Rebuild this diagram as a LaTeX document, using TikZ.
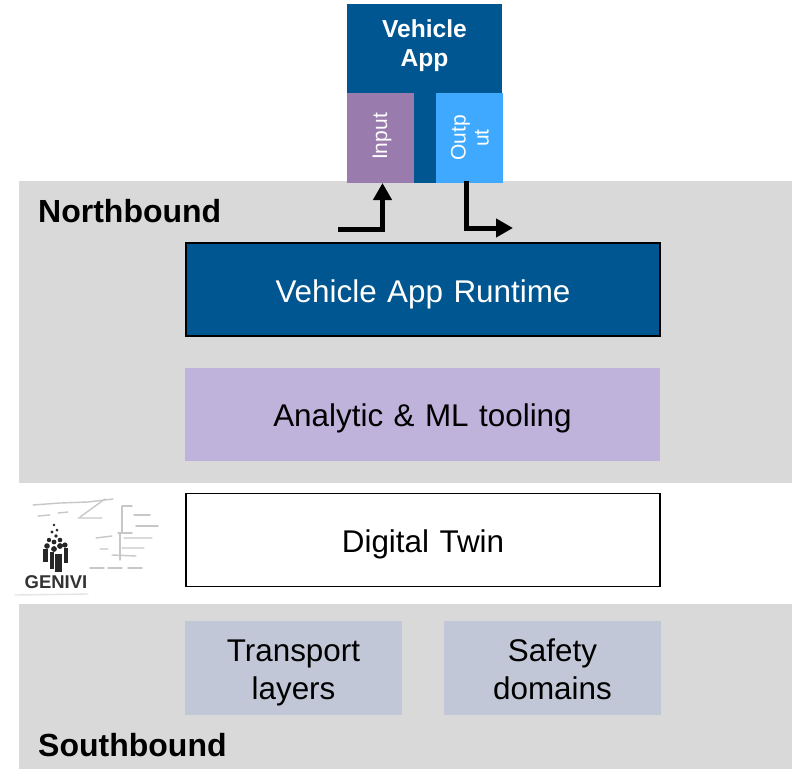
\documentclass[tikz,border=0pt]{standalone}
\usepackage{fontspec}
\setmainfont{Liberation Sans}
\usetikzlibrary{arrows.meta}
\definecolor{boschblue}{HTML}{005691}
\definecolor{bandgray}{HTML}{D9D9D9}
\definecolor{lilac}{HTML}{BFB2DB}
\definecolor{inputpurple}{HTML}{9A7BAD}
\definecolor{outputblue}{HTML}{3FA9FF}
\definecolor{slatebox}{HTML}{C1C7D6}
\newcommand{\fs}[2]{\fontsize{#1}{#2}\selectfont}
\newcommand{\onestrut}{\rule[-8pt]{0pt}{41pt}}
\newcommand{\topstrut}{\rule{0pt}{33pt}}
\newcommand{\botstrut}{\rule[-8pt]{0pt}{8pt}}
\tikzset{
  x=1pt,y=-1pt,
  band/.style={fill=bandgray,draw=none},
  block/.style={anchor=center,minimum width=#1,minimum height=93pt,inner sep=0pt,align=center,text width=#1,font=\fs{31.4}{38}},
  heading/.style={anchor=west,inner sep=0pt,font=\fs{32}{32}\bfseries,text=black},
  flow/.style={draw=black,line width=5pt,-{Triangle[length=17pt,width=18pt]}},
  faint/.style={draw=black!22,line width=1.4pt,line cap=round},
  fig/.style={fill=black!85,draw=none}
}
\begin{document}
\begin{tikzpicture}
\useasboundingbox (0,0) rectangle (797,770);
\fill[white] (0,0) rectangle (797,770);
% bands
\path[band] (19,181) rectangle (792,483);
\path[band] (19,604) rectangle (792,769);
% Vehicle app
\node[fill=boschblue,minimum width=155pt,minimum height=179pt,inner sep=0pt] (app) at (424.5,93.5) {};
\node[text=white,align=center,font=\fs{24.6}{29}\bfseries,inner sep=0pt] (appt) at (424.5,45.5) {Vehicle\\App};
\node[fill=inputpurple,minimum width=67pt,minimum height=90pt,inner sep=0pt] (input) at (380.5,138) {};
\node[fill=outputblue,minimum width=67pt,minimum height=90pt,inner sep=0pt] (output) at (469.5,138) {};
\node[text=white,rotate=90,font=\fs{21}{23},inner sep=0pt] (inputt) at (382,136.5) {Input};
\node[text=white,rotate=90,font=\fs{21}{23},align=center,inner sep=0pt] (outputt) at (470,138) {Outp\\ut};
% main blocks
\node[block=474pt,fill=boschblue,draw=black,line width=1.6pt,text=white] (runtime) at (423,289.5) {\onestrut Vehicle App Runtime};
\node[block=475pt,fill=lilac,text=black] (ml) at (422.5,414) {\onestrut Analytic \& ML tooling};
\node[block=474pt,fill=white,draw=black,line width=1.6pt,text=black] (twin) at (423,540) {\onestrut Digital Twin};
\node[block=217pt,fill=slatebox,text=black,minimum height=94pt] (transport) at (293.5,668) {\topstrut Transport\\\botstrut layers};
\node[block=217pt,fill=slatebox,text=black,minimum height=94pt] (safety) at (552.5,668) {\topstrut Safety\\\botstrut domains};
% headings
\node[heading] (north) at (38,211) {Northbound};
\node[heading] (south) at (38,745) {Southbound};
% arrows
\coordinate (inStart) at (338,229);
\coordinate (inEnd) at (382.5,183);
\coordinate (outStart) at (466,181);
\coordinate (outEnd) at (513,228);
\draw[flow] (inStart) -| (inEnd);
\draw[flow] (outStart) |- (outEnd);
% GENIVI logo with faint schematic behind it
\draw[faint] (33,505)--(60,503)--(88,502)--(113,499);
\draw[faint] (38,516)--(50,515) (58,513)--(68,512) (78,518)--(102,518);
\draw[faint] (80,517)--(105,499);
\draw[faint] (122,506)--(132,506) (122,506)--(122,532) (134,515)--(150,515) (136,526)--(158,526);
\draw[faint] (118,533)--(132,533) (120,533)--(120,560);
\draw[faint] (96,538)--(112,536) (124,538)--(152,538) (100,549)--(108,549) (122,548)--(144,548) (112,555)--(136,556);
\draw[faint] (90,568)--(104,568) (108,568)--(122,568) (128,568)--(142,568);
\draw[faint,draw=black!10] (15,595)--(88,594);
\fill[fig] (54,525) circle (1.4) (57,530) circle (1.5) (52,532) circle (1.6) (56,536) circle (1.9);
\fill[fig] (49,540) circle (2.2) (54,542) circle (2.4) (60,540) circle (2.3);
\fill[fig] (47,546) circle (2.8) (54,549) circle (2.9) (60,546) circle (2.9) (65,545) circle (2.6);
\fill[fig] (43,549) rectangle (48,562);
\fill[fig] (49.5,552) rectangle (53.5,569);
\fill[fig] (55,554) rectangle (62,572);
\fill[fig] (63.5,548) rectangle (68,563);
\node[inner sep=0pt,font=\fs{18.5}{20}\bfseries,text=black!80] (genivi) at (56,582.5) {GENIVI};
\end{tikzpicture}
\end{document}
